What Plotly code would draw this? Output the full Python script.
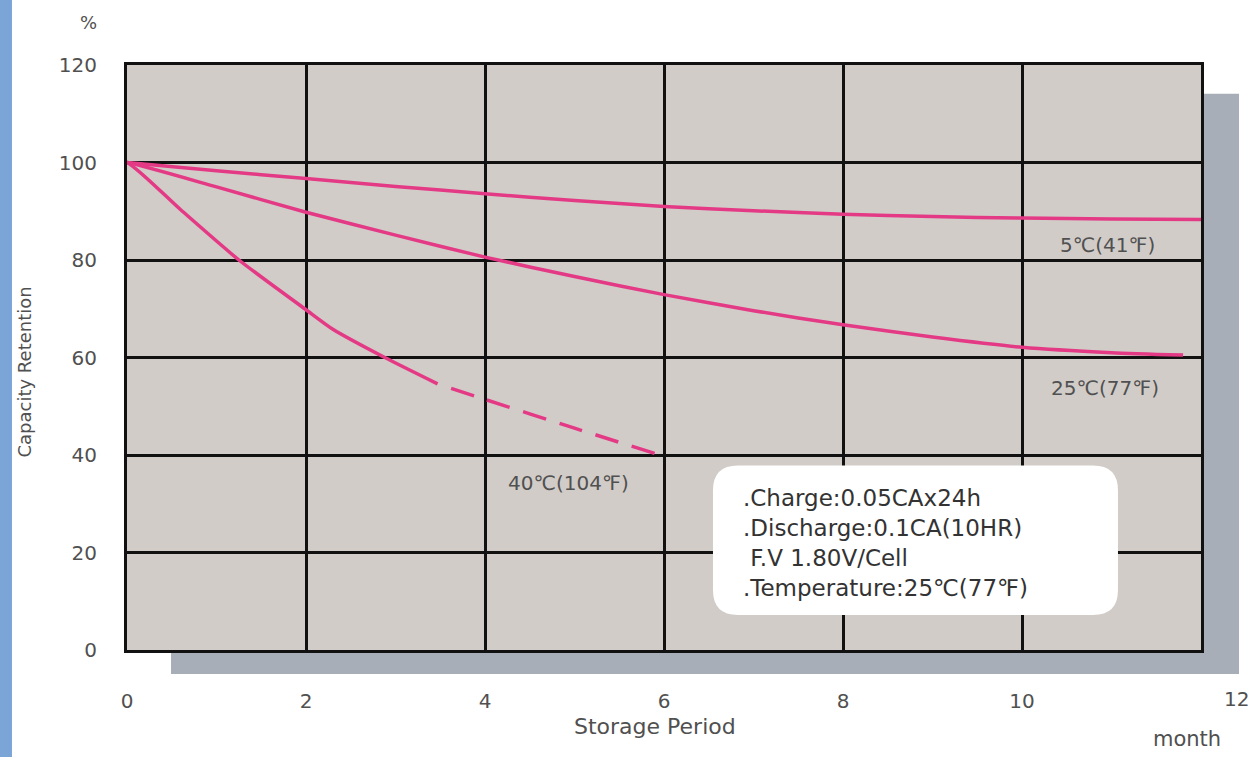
import plotly.graph_objects as go

# ---- data ----
x_5c = [-0.25, 0, 1, 2, 3, 4, 5, 6, 7, 8, 9, 10, 11, 12.05]
y_5c = [100.3, 100, 98.3, 96.7, 95.1, 93.6, 92.2, 91.0, 90.1, 89.4, 88.9, 88.6, 88.4, 88.3]

x_25c = [-0.25, 0, 1, 2, 3, 4, 5, 6, 7, 8, 9, 10, 11, 11.8]
y_25c = [100.3, 100, 95.0, 89.8, 85.1, 80.6, 76.6, 72.9, 69.6, 66.7, 64.2, 62.1, 61.0, 60.5]

x_40c_solid = [-0.25, 0, 0.6, 1.25, 2.0, 2.3, 2.88, 3.47]
y_40c_solid = [100.3, 100, 90.3, 80.0, 69.8, 65.8, 60.0, 54.6]
x_40c_dash = [3.47, 4, 5, 5.92]
y_40c_dash = [54.6, 51.4, 45.5, 40.2]

x_ticks = [0, 2, 4, 6, 8, 10]
x_ticktext = ["0", "2", "4", "6", "8", "10"]
y_ticks = [0, 20, 40, 60, 80, 100, 120]
y_ticktext = ["0", "20", "40", "60", "80", "100", "120"]

curve_labels = ["5℃(41℉)", "25℃(77℉)", "40℃(104℉)"]
label_x = [10.96, 10.93, 4.93]
label_y = [83.0, 53.8, 34.3]

info_lines = [".Charge:0.05CAx24h", ".Discharge:0.1CA(10HR)", " F.V 1.80V/Cell", ".Temperature:25℃(77℉)"]

# ---- style ----
PINK = "#e43a85"
GRID = "#111111"
TXT = "#505050"
FONT = "DejaVu Sans, Arial, sans-serif"

fig = go.Figure()
for xs, ys, dash in [(x_5c, y_5c, "solid"), (x_25c, y_25c, "solid"),
                     (x_40c_solid, y_40c_solid, "solid"),
                     (x_40c_dash, y_40c_dash, "0px,14px,24px,0px")]:
    fig.add_trace(go.Scatter(x=xs, y=ys, mode="lines", cliponaxis=False,
                             line=dict(color=PINK, width=3.5, dash=dash,
                                       shape="spline", smoothing=0.6),
                             hoverinfo="skip", showlegend=False))

axis_common = dict(showgrid=True, gridcolor=GRID, gridwidth=3,
                   showline=True, linecolor=GRID, linewidth=3, mirror=True,
                   ticks="", zeroline=False,
                   tickfont=dict(family=FONT, size=20, color=TXT))

fig.update_xaxes(range=[0, 12], tickmode="array", tickvals=x_ticks, ticktext=x_ticktext,
                 ticklabelstandoff=31, **axis_common)
fig.update_yaxes(range=[0, 120], tickmode="array", tickvals=y_ticks, ticktext=y_ticktext,
                 ticklabelstandoff=23, **axis_common)

shapes = [
    # left blue strip
    dict(type="rect", xref="paper", yref="paper", x0=-0.1183, x1=-0.1071, y0=-0.2, y1=1.12,
         fillcolor="#7ba5d6", line=dict(width=0), layer="below"),
    # shadow
    dict(type="rect", xref="paper", yref="paper", x0=0.041, x1=1.0354, y0=-0.041, y1=0.951,
         fillcolor="#a8aeb8", line=dict(width=0), layer="below"),
    # plot background
    dict(type="rect", xref="paper", yref="paper", x0=0, x1=1, y0=0, y1=1,
         fillcolor="#d1ccc8", line=dict(width=0), layer="below"),
]
# rounded white info box
bx0, bx1, by0, by1 = 0.5456, 0.9227, 0.060, 0.3155
rx, ry = 0.0233, 0.0427
path = (f"M {bx0+rx},{by0} L {bx1-rx},{by0} Q {bx1},{by0} {bx1},{by0+ry} "
        f"L {bx1},{by1-ry} Q {bx1},{by1} {bx1-rx},{by1} "
        f"L {bx0+rx},{by1} Q {bx0},{by1} {bx0},{by1-ry} "
        f"L {bx0},{by0+ry} Q {bx0},{by0} {bx0+rx},{by0} Z")
shapes.append(dict(type="path", xref="paper", yref="paper", path=path,
                   fillcolor="white", line=dict(width=0), layer="above"))

annotations = []
for t, lx, ly in zip(curve_labels, label_x, label_y):
    annotations.append(dict(x=lx, y=ly, xref="x", yref="y", text=t, showarrow=False,
                            xanchor="center", yanchor="middle",
                            font=dict(family=FONT, size=20, color=TXT)))
annotations.append(dict(x=6.86, y=22.0, xref="x", yref="y", text="<br>".join(info_lines),
                        showarrow=False, xanchor="left", yanchor="middle", align="left",
                        font=dict(family=FONT, size=23, color="#333333")))
annotations += [
    dict(x=-0.0363, y=1.072, xref="paper", yref="paper", text="%", showarrow=False,
         xanchor="center", yanchor="middle", font=dict(family=FONT, size=18, color=TXT)),
    dict(x=-0.095, y=0.476, xref="paper", yref="paper", text="Capacity Retention",
         textangle=-90, showarrow=False, xanchor="center", yanchor="middle",
         font=dict(family=FONT, size=18, color=TXT)),
    dict(x=0.4916, y=-0.1316, xref="paper", yref="paper", text="Storage Period",
         showarrow=False, xanchor="center", yanchor="middle",
         font=dict(family=FONT, size=22, color=TXT)),
    dict(x=0.987, y=-0.152, xref="paper", yref="paper", text="month",
         showarrow=False, xanchor="center", yanchor="middle",
         font=dict(family=FONT, size=21, color=TXT)),
    dict(x=12, y=-0.0838, xref="x", yref="paper", text="12", xshift=35,
         showarrow=False, xanchor="center", yanchor="middle",
         font=dict(family=FONT, size=20, color=TXT)),
]

fig.update_layout(width=1251, height=757,
                  margin=dict(l=127, r=50, t=65, b=107),
                  paper_bgcolor="white", plot_bgcolor="rgba(0,0,0,0)",
                  shapes=shapes, annotations=annotations, showlegend=False)

fig.write_html("out.html", config={"displayModeBar": False},
               post_script="document.body.style.margin='0';document.body.style.overflow='hidden';")
